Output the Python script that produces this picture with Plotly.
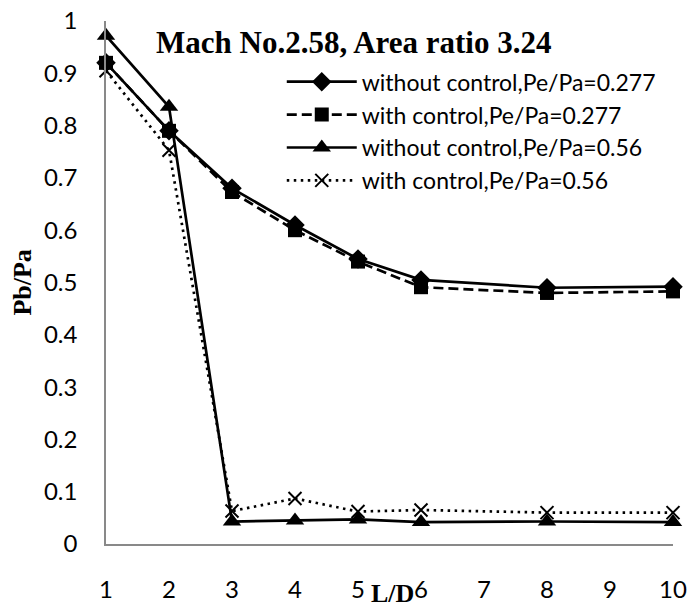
import plotly.graph_objects as go

LD = [1, 2, 3, 4, 5, 6, 8, 10]
without_0277 = [0.92, 0.79, 0.68, 0.61, 0.545, 0.505, 0.49, 0.492]
with_0277 = [0.92, 0.79, 0.673, 0.60, 0.54, 0.491, 0.48, 0.483]
without_056 = [0.972, 0.836, 0.043, 0.045, 0.047, 0.042, 0.043, 0.042]
with_056 = [0.905, 0.753, 0.063, 0.087, 0.062, 0.065, 0.060, 0.060]

names = ["without control,Pe/Pa=0.277", "with control,Pe/Pa=0.277",
         "without control,Pe/Pa=0.56", "with control,Pe/Pa=0.56"]

fig = go.Figure()
fig.add_trace(go.Scatter(x=LD, y=without_0277, name=names[0], mode="lines+markers",
                         line=dict(color="black", width=2.7),
                         marker=dict(symbol="diamond", size=15, color="black"),
                         cliponaxis=False))
fig.add_trace(go.Scatter(x=LD, y=with_0277, name=names[1], mode="lines+markers",
                         line=dict(color="black", width=2.7, dash="10px,5px"),
                         marker=dict(symbol="square", size=14, color="black"),
                         cliponaxis=False))
fig.add_trace(go.Scatter(x=LD, y=without_056, name=names[2], mode="lines+markers",
                         line=dict(color="black", width=2.7),
                         marker=dict(symbol="triangle-up", size=16, color="black"),
                         cliponaxis=False))
fig.add_trace(go.Scatter(x=LD, y=with_056, name=names[3], mode="lines+markers",
                         line=dict(color="black", width=2.7, dash="2.5px,4.5px"),
                         marker=dict(symbol="x-thin", size=13, color="black",
                                     line=dict(color="black", width=2)),
                         cliponaxis=False))

tick_font = dict(family="Lato, Open Sans, sans-serif", size=24, color="black")

fig.update_layout(
    width=693, height=609,
    margin=dict(l=106, r=20, t=21, b=65),
    paper_bgcolor="white", plot_bgcolor="white",
    showlegend=True,
    legend=dict(x=0.31, y=0.925, xanchor="left", yanchor="top", itemwidth=70,
                font=dict(family="Lato, Open Sans, sans-serif", size=23, color="black"),
                bgcolor="rgba(0,0,0,0)", tracegroupgap=0),
    xaxis=dict(range=[1, 10], dtick=1, tick0=1, showgrid=False, zeroline=False,
               showline=True, linecolor="#898989", linewidth=1.5, automargin=False,
               ticks="", tickfont=tick_font, ticklabelstandoff=23),
    yaxis=dict(range=[0, 1], dtick=0.1, tick0=0, showgrid=False, zeroline=False,
               showline=True, linecolor="#898989", linewidth=1.5, automargin=False,
               ticks="", tickfont=tick_font, ticklabelstandoff=22),
    annotations=[
        dict(text="<b>Mach No.2.58, Area ratio 3.24</b>", x=0.437, y=0.958,
             xref="paper", yref="paper", showarrow=False,
             xanchor="center", yanchor="middle",
             font=dict(family="Liberation Serif, serif", size=31, color="black")),
        dict(text="<b>L/D</b>", x=5.55, y=-0.095, xref="x", yref="paper",
             showarrow=False, xanchor="center", yanchor="middle",
             font=dict(family="Liberation Serif, serif", size=26, color="black")),
        dict(text="<b>Pb/Pa</b>", x=-0.148, y=0.5, xref="paper", yref="paper",
             showarrow=False, textangle=-90, xanchor="center", yanchor="middle",
             font=dict(family="Liberation Serif, serif", size=26, color="black")),
    ],
)

fig.write_html("out.html")
